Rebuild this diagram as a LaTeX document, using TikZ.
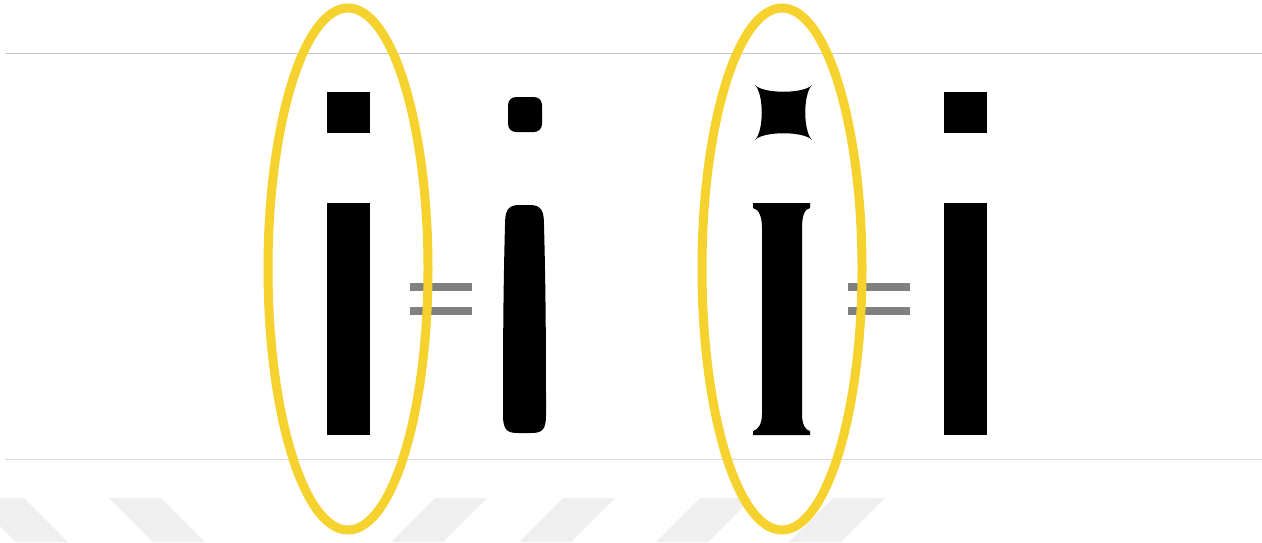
\documentclass[tikz,border=0pt]{standalone}
\usepackage{tikz}
\usetikzlibrary{calc}
\usepackage{xcolor}
\definecolor{gyellow}{HTML}{F5D22E}
\definecolor{geq}{HTML}{808080}
\definecolor{gstripe}{HTML}{EFEFEF}
\definecolor{grule}{HTML}{C6C6C6}
\definecolor{grulelow}{HTML}{DADADA}
\tikzset{
  glyph/.style   = {fill=black, draw=none},
  eqbar/.style   = {fill=geq, draw=none},
  ring/.style    = {draw=gyellow, line width=9pt},
  stripe/.style  = {fill=gstripe, draw=none},
}

\begin{document}
\begin{tikzpicture}[x=1pt,y=-1pt]
\useasboundingbox (0,0) rectangle (1262,542);
% watermark stripes
\begin{scope}
\clip (0,0) rectangle (1262,542);
\foreach \t in {-28,109}{
  \fill[stripe] (\t,498) -- ++(52,0) -- ++(44,44) -- ++(-52,0) -- cycle;}
\foreach \t in {435,563,700,833}{
  \fill[stripe] (\t,498) -- ++(52,0) -- ++(-44,44) -- ++(-52,0) -- cycle;}
\end{scope}
% rules
\draw[grule,line width=1pt] (5,53) -- (1262,53);
\draw[grulelow,line width=1pt] (5,459) -- (1262,459);
% plain i (left and right)
\foreach \x in {327,944}{
  \fill[glyph] (\x,92) rectangle ++(43,41);
  \fill[glyph] (\x,203) rectangle ++(43,232);}
% rounded i
\fill[glyph,rounded corners=8pt] (508,97) rectangle (542,132);
\fill[glyph] (519,205) .. controls (507,205) and (505,212) .. (505,225)
  .. controls (503,300) and (503,360) .. (503,415)
  .. controls (503,430) and (507,433) .. (518,433) -- (531,433)
  .. controls (542,433) and (546,430) .. (546,415)
  .. controls (546,360) and (546,300) .. (544,225)
  .. controls (544,212) and (542,205) .. (530,205) -- cycle;
% serif i: dot with pointed corners
\fill[glyph] (755,85) .. controls (763,94) and (804,94) .. (812,85)
  .. controls (803,94) and (803,131) .. (812,140)
  .. controls (804,131) and (763,131) .. (755,140)
  .. controls (764,131) and (764,94) .. (755,85) -- cycle;
% serif i: stem
\fill[glyph] (753,203) -- (810,203) -- (810,208)
  .. controls (804,209) and (802,217) .. (802,228) -- (802,414)
  .. controls (802,424) and (805,430) .. (810,431) -- (810,435)
  -- (753,435) -- (753,431)
  .. controls (758,430) and (762,424) .. (762,414) -- (762,228)
  .. controls (762,217) and (759,209) .. (753,208) -- cycle;
% equal signs
\foreach \x in {410,848}{
  \fill[eqbar] (\x,283) rectangle ++(62,8);
  \fill[eqbar] (\x,307) rectangle ++(62,8);}
% highlight rings
\draw[ring] (348,269) ellipse [x radius=80pt, y radius=261pt];
\draw[ring] (782,269) ellipse [x radius=80pt, y radius=261pt];
\end{tikzpicture}
\end{document}
